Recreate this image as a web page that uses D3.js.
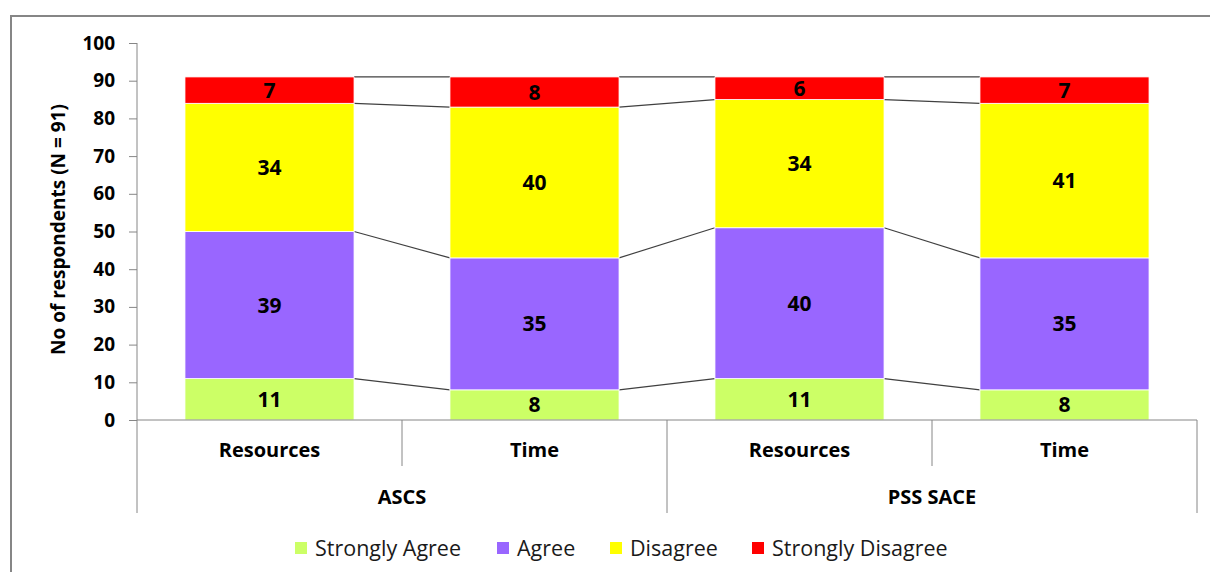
<!DOCTYPE html>
<html>
<head>
<meta charset="utf-8">
<script src="https://cdn.jsdelivr.net/npm/d3@7"></script>
<style>
  body { margin: 0; background: #fff; }
  svg text { font-family: "Open Sans", sans-serif; }
</style>
</head>
<body>
<svg id="vis"></svg>
<script>
// chart data
var bars = ["ASCS|Resources", "ASCS|Time", "PSS SACE|Resources", "PSS SACE|Time"];
var barLabels = ["Resources", "Time", "Resources", "Time"];
var groups = ["ASCS", "PSS SACE"];
var seriesNames = ["Strongly Agree", "Agree", "Disagree", "Strongly Disagree"];
var stronglyAgree = [11, 8, 11, 8];
var agree = [39, 35, 40, 35];
var disagree = [34, 40, 34, 41];
var stronglyDisagree = [7, 8, 6, 7];
var colors = ["#CCFF66", "#9966FF", "#FFFF00", "#FF0000"];
var yTicks = [0, 10, 20, 30, 40, 50, 60, 70, 80, 90, 100];

(function() {
  var width = 1210, height = 572;
  var left = 137, right = 1197, top = 43, bottom = 420;

  var chart = d3.select("#vis")
    .attr("width", width)
    .attr("height", height);

  // outer chart border (only left and top visible)
  chart.append("rect")
    .attr("x", 11).attr("y", 16)
    .attr("width", 1300).attr("height", 700)
    .attr("fill", "none")
    .attr("stroke", "#868686")
    .attr("stroke-width", 2);

  var rows = bars.map(function(b, i) {
    return {
      key: b,
      "Strongly Agree": stronglyAgree[i],
      "Agree": agree[i],
      "Disagree": disagree[i],
      "Strongly Disagree": stronglyDisagree[i]
    };
  });
  var stacked = d3.stack().keys(seriesNames)(rows);

  var x = d3.scaleBand().domain(bars).range([left, right])
    .paddingInner(0.362).paddingOuter(0.181);
  var y = d3.scaleLinear().domain([0, 100]).range([bottom, top]);

  // y axis
  var yAxis = chart.append("g")
    .attr("transform", "translate(" + left + ",0)")
    .call(d3.axisLeft(y).tickValues(yTicks).tickSize(8).tickPadding(14));
  yAxis.selectAll("line, path").attr("stroke", "#868686");
  yAxis.select(".domain").attr("d", "M0," + top + "V" + bottom);
  yAxis.selectAll("text")
    .attr("font-size", 19).attr("font-weight", "bold").attr("fill", "#000")
    .style("font-family", "'Open Sans', sans-serif");

  chart.append("text")
    .attr("transform", "translate(65," + ((top + bottom) / 2 - 2) + ") rotate(-90)")
    .attr("text-anchor", "middle")
    .attr("font-size", 19).attr("font-weight", "bold")
    .text("No of respondents (N = 91)");

  // series lines between adjacent bars
  var lineG = chart.append("g");
  stacked.forEach(function(s) {
    for (var i = 0; i < bars.length - 1; i++) {
      lineG.append("line")
        .attr("x1", x(bars[i]) + x.bandwidth())
        .attr("x2", x(bars[i + 1]))
        .attr("y1", y(s[i][1]))
        .attr("y2", y(s[i + 1][1]))
        .attr("stroke", "#404040")
        .attr("stroke-width", 1.2);
    }
  });

  // bars
  var layer = chart.selectAll("g.layer")
    .data(stacked).enter().append("g")
    .attr("class", "layer")
    .attr("fill", function(d, i) { return colors[i]; });

  layer.selectAll("rect")
    .data(function(d) { return d; })
    .enter().append("rect")
    .attr("x", function(d) { return x(d.data.key); })
    .attr("y", function(d) { return y(d[1]); })
    .attr("width", x.bandwidth())
    .attr("height", function(d) { return y(d[0]) - y(d[1]); })
    .attr("stroke", "#fff")
    .attr("stroke-width", 0.8);

  layer.selectAll("text")
    .data(function(d) { return d; })
    .enter().append("text")
    .attr("x", function(d) { return x(d.data.key) + x.bandwidth() / 2; })
    .attr("y", function(d) { return (y(d[0]) + y(d[1])) / 2; })
    .attr("dy", "0.36em")
    .attr("text-anchor", "middle")
    .attr("font-size", 21).attr("font-weight", "bold")
    .attr("fill", "#000")
    .text(function(d) { return d[1] - d[0]; });

  // x axis with two-level categories
  var axisColor = "#868686";
  chart.append("line")
    .attr("x1", left).attr("x2", right).attr("y1", bottom).attr("y2", bottom)
    .attr("stroke", axisColor);
  var step = x.step();
  var groupWidth = (right - left) / groups.length;
  for (var i = 0; i <= bars.length; i++) {
    var xx = left + i * step;
    var isGroupEdge = (i % 2 === 0);
    chart.append("line")
      .attr("x1", xx).attr("x2", xx)
      .attr("y1", bottom).attr("y2", isGroupEdge ? 513 : 466)
      .attr("stroke", axisColor);
  }
  chart.selectAll("text.cat")
    .data(bars).enter().append("text")
    .attr("class", "cat")
    .attr("x", function(d) { return x(d) + x.bandwidth() / 2; })
    .attr("y", 450).attr("dy", "0.36em")
    .attr("text-anchor", "middle")
    .attr("font-size", 20).attr("font-weight", "bold")
    .text(function(d, i) { return barLabels[i]; });
  chart.selectAll("text.grp")
    .data(groups).enter().append("text")
    .attr("class", "grp")
    .attr("x", function(d, i) { return left + groupWidth * (i + 0.5); })
    .attr("y", 497).attr("dy", "0.36em")
    .attr("text-anchor", "middle")
    .attr("font-size", 20).attr("font-weight", "bold")
    .text(function(d) { return d; });

  // legend
  var legendX = [295, 497, 610, 752];
  var legend = chart.selectAll("g.legend")
    .data(seriesNames).enter().append("g")
    .attr("class", "legend")
    .attr("transform", function(d, i) { return "translate(" + legendX[i] + ",548)"; });
  legend.append("rect")
    .attr("x", 0).attr("y", -6)
    .attr("width", 12).attr("height", 12)
    .attr("fill", function(d, i) { return colors[i]; });
  legend.append("text")
    .attr("x", 20).attr("dy", "0.36em")
    .attr("font-size", 21.5).attr("fill", "#1a1a1a")
    .text(function(d) { return d; });
}());
</script>
</body>
</html>
